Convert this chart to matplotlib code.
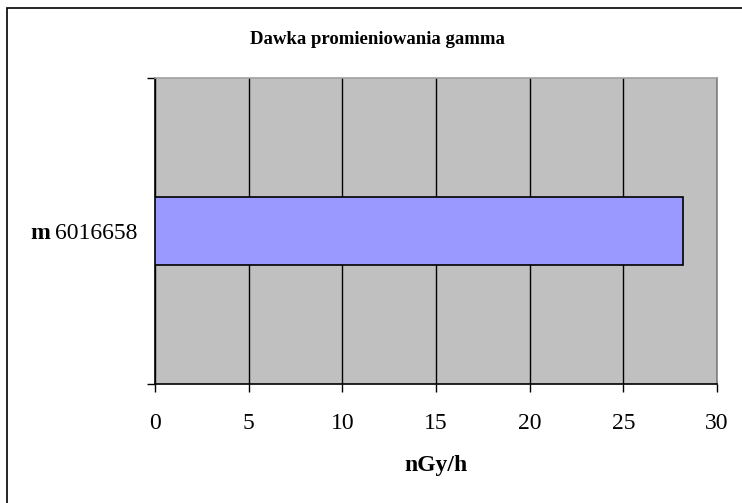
import matplotlib
matplotlib.use("Agg")
import matplotlib.pyplot as plt
from matplotlib.patches import Rectangle

categories = ["6016658"]
prefix = "m"
values = [28.2]
xticks = [0, 5, 10, 15, 20, 25, 30]
title = "Dawka promieniowania gamma"
xlabel = "nGy/h"

plt.rcParams['font.family'] = ['Liberation Serif', 'DejaVu Serif']

fig = plt.figure(figsize=(7.42, 5.03), dpi=100)
fig.patches.append(Rectangle((7/742, -0.1), 1.2, 1 - 8/503 + 0.1, transform=fig.transFigure,
                             fill=False, edgecolor='black', linewidth=1.2, zorder=0))

ax = fig.add_axes([155/742, 1 - 384/503, (717 - 155)/742, (384 - 78)/503])
ax.set_facecolor('#C0C0C0')
ypos = list(range(len(categories)))
ax.barh(ypos, values, height=0.22, color='#9999FF', edgecolor='black', linewidth=1.2, zorder=3)
ax.set_xlim(0, 30)
ax.set_ylim(-0.5, 0.5)
ax.set_xticks(xticks)
ax.set_xticklabels([str(t) for t in xticks], fontsize=17)
ax.xaxis.grid(True, color='black', linewidth=1.0, zorder=1)
ax.set_axisbelow(True)
ax.tick_params(axis='x', direction='out', length=6, width=1, pad=15, color='black')

ax.set_yticks(ypos)
ax.set_yticklabels(categories, fontsize=17)
ax.set_yticks([-0.5, 0.5], minor=True)
ax.tick_params(axis='y', which='major', length=0, pad=13)
ax.tick_params(axis='y', which='minor', direction='out', length=6, width=1, color='black')

for s in ['left', 'bottom']:
    ax.spines[s].set_color('black')
    ax.spines[s].set_linewidth(1.2)
ax.spines['top'].set_color('#A0A0A0')
ax.spines['right'].set_color('#808080')
ax.spines['top'].set_linewidth(1.2)
ax.spines['right'].set_linewidth(1.2)

fig.canvas.draw()
for lbl in ax.get_yticklabels():
    ax.annotate(prefix, xy=(0, 0.5), xycoords=lbl, xytext=(-3, 0), textcoords='offset points',
                ha='right', va='center', fontsize=17, fontweight='bold')

fig.text(377/742, 1 - 40/503, title, ha='center', va='center', fontsize=13.5, fontweight='bold')
fig.text(436/742, 1 - 466/503, xlabel, ha='center', va='center', fontsize=17, fontweight='bold')

fig.savefig("out.png", dpi=100)
